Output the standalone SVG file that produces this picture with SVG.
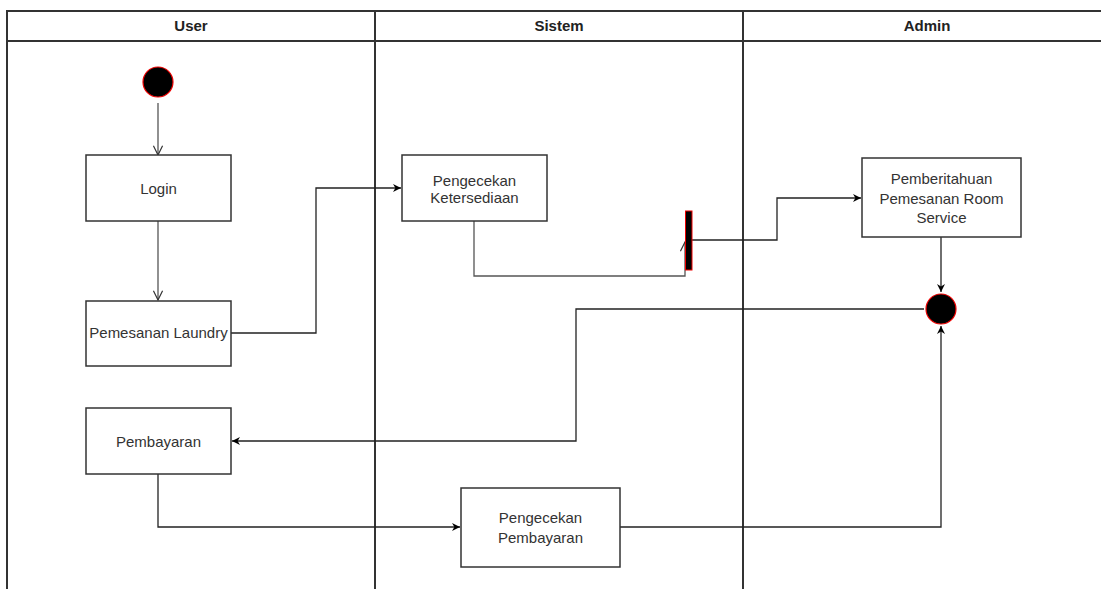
<svg xmlns="http://www.w3.org/2000/svg" width="1101" height="589" viewBox="0 0 1101 589">
  <style>
    .lane { fill: none; stroke: #333; stroke-width: 2; }
    .hdr { font-family: "Liberation Sans", Arial, sans-serif; font-size: 15px; font-weight: bold; fill: #222; text-anchor: middle; }
    .box { fill: #fff; stroke: #333; stroke-width: 1.5; }
    .lbl { font-family: "Liberation Sans", Arial, sans-serif; font-size: 15px; fill: #333; text-anchor: middle; }
    .edge { fill: none; stroke: #222; stroke-width: 1.3; }
    .soft { fill: none; stroke: #555; stroke-width: 1.3; }
    .dot { fill: #000; stroke: #e00; stroke-width: 1.2; }
  </style>
  <defs>
    <marker id="filled" viewBox="0 0 10 10" refX="10" refY="5" markerWidth="9" markerHeight="8" markerUnits="userSpaceOnUse" orient="auto">
      <path d="M0,0 L10,5 L0,10 L3,5 Z" fill="#000"/>
    </marker>
    <marker id="open" viewBox="0 0 12 12" refX="11" refY="6" markerWidth="11" markerHeight="11" markerUnits="userSpaceOnUse" orient="auto">
      <path d="M1,1 L11,6 L1,11" fill="none" stroke="#333" stroke-width="1.3"/>
    </marker>
  </defs>
  <rect width="1101" height="589" fill="#fff"/>

  <!-- swimlanes -->
  <g id="lanes">
    <path class="lane" d="M1111,11 H7 V600"/>
    <line class="lane" x1="7" y1="41" x2="1111" y2="41"/>
    <line class="lane" x1="375" y1="11" x2="375" y2="600"/>
    <line class="lane" x1="743" y1="11" x2="743" y2="600"/>
    <text class="hdr" x="191" y="31">User</text>
    <text class="hdr" x="559" y="31">Sistem</text>
    <text class="hdr" x="927" y="31">Admin</text>
  </g>

  <!-- connectors -->
  <g id="connectors">
    <line class="soft" x1="158" y1="103" x2="158" y2="155" marker-end="url(#open)"/>
    <line class="soft" x1="158" y1="221" x2="158" y2="300" marker-end="url(#open)"/>
    <path class="edge" d="M231,333 H316 V188 H401" marker-end="url(#filled)"/>
    <path class="soft" d="M474,221 V276 H685 V242" marker-end="url(#open)"/>
    <path class="edge" d="M692,240 H777 V198 H861" marker-end="url(#filled)"/>
    <line class="edge" x1="941" y1="237" x2="941" y2="292" marker-end="url(#filled)"/>
    <path class="edge" d="M924,309 H576 V441 H232" marker-end="url(#filled)"/>
    <path class="edge" d="M158,474 V527 H460" marker-end="url(#filled)"/>
    <path class="edge" d="M620,527 H941 V326" marker-end="url(#filled)"/>
  </g>

  <!-- nodes -->
  <g id="start">
    <circle class="dot" cx="158" cy="82" r="15"/>
  </g>
  <g id="login">
    <rect class="box" x="86" y="155" width="145" height="66"/>
    <text class="lbl" x="158.5" y="194">Login</text>
  </g>
  <g id="pemesanan-laundry">
    <rect class="box" x="86" y="301" width="145" height="65"/>
    <text class="lbl" x="158.5" y="338">Pemesanan Laundry</text>
  </g>
  <g id="pengecekan-ketersediaan">
    <rect class="box" x="402" y="155" width="145" height="66"/>
    <text class="lbl" x="474.5" y="186">Pengecekan</text>
    <text class="lbl" x="474.5" y="203">Ketersediaan</text>
  </g>
  <g id="fork">
    <rect x="685.5" y="211" width="6.5" height="59" fill="#000" stroke="#e00" stroke-width="1"/>
  </g>
  <g id="pemberitahuan">
    <rect class="box" x="862" y="158" width="159" height="79"/>
    <text class="lbl" x="941.5" y="184">Pemberitahuan</text>
    <text class="lbl" x="941.5" y="203.5">Pemesanan Room</text>
    <text class="lbl" x="941.5" y="223">Service</text>
  </g>
  <g id="end">
    <circle class="dot" cx="941" cy="309" r="15"/>
  </g>
  <g id="pembayaran">
    <rect class="box" x="86" y="408" width="145" height="66"/>
    <text class="lbl" x="158.5" y="447">Pembayaran</text>
  </g>
  <g id="pengecekan-pembayaran">
    <rect class="box" x="461" y="488" width="159" height="79"/>
    <text class="lbl" x="540.5" y="523">Pengecekan</text>
    <text class="lbl" x="540.5" y="543">Pembayaran</text>
  </g>
</svg>
